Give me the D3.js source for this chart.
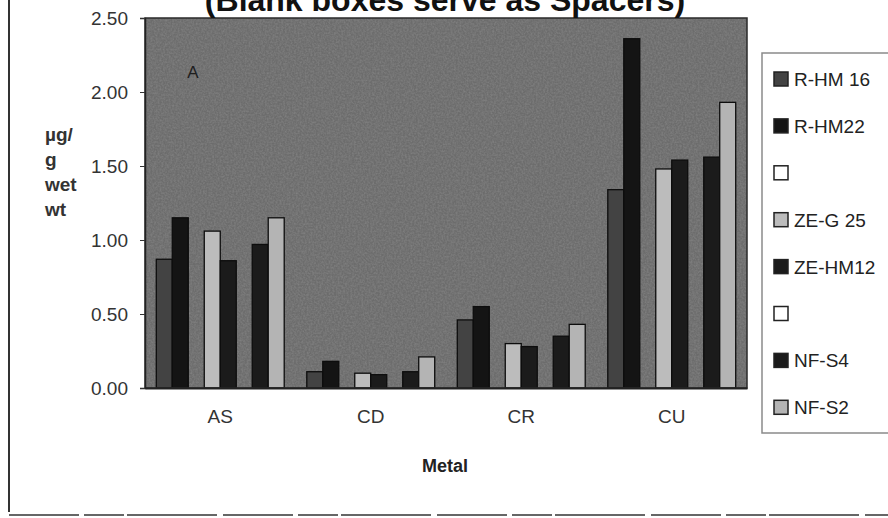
<!DOCTYPE html>
<html>
<head>
<meta charset="utf-8">
<script src="https://cdn.jsdelivr.net/npm/d3@7/dist/d3.min.js"></script>
<style>
  html, body { margin: 0; padding: 0; background: #fff; }
  svg { display: block; font-family: "Liberation Sans", Arial, sans-serif; }
</style>
</head>
<body>
<svg id="chart" width="888" height="518"></svg>
<script>
// Metal concentrations (µg/g wet wt) by sample site
const metals = ["AS", "CD", "CR", "CU"];
const seriesKeys = ["rhm16", "rhm22", "blank1", "zeg25", "zehm12", "blank2", "nfs4", "nfs2"];
const seriesLabels = ["R-HM 16", "R-HM22", "", "ZE-G 25", "ZE-HM12", "", "NF-S4", "NF-S2"];
const rhm16  = [0.87, 0.11, 0.46, 1.34];
const rhm22  = [1.15, 0.18, 0.55, 2.36];
const blank1 = [0, 0, 0, 0];
const zeg25  = [1.06, 0.10, 0.30, 1.48];
const zehm12 = [0.86, 0.09, 0.28, 1.54];
const blank2 = [0, 0, 0, 0];
const nfs4   = [0.97, 0.11, 0.35, 1.56];
const nfs2   = [1.15, 0.21, 0.43, 1.93];
const yTicks = [0, 0.5, 1.0, 1.5, 2.0, 2.5];

const seriesValues = { rhm16, rhm22, blank1, zeg25, zehm12, blank2, nfs4, nfs2 };
const fills = {
  rhm16: "#434343", rhm22: "#141414", blank1: "#ffffff", zeg25: "#bcbcbc",
  zehm12: "#1b1b1b", blank2: "#ffffff", nfs4: "#1b1b1b", nfs2: "#b4b4b4"
};

const svg = d3.select("#chart");
const plot = { left: 145, right: 747, top: 18, bottom: 388 };

// speckle texture for the plot floor
const defs = svg.append("defs");
const f = defs.append("filter").attr("id", "grain").attr("x", 0).attr("y", 0).attr("width", 1).attr("height", 1);
f.append("feTurbulence").attr("type", "fractalNoise").attr("baseFrequency", 0.55).attr("numOctaves", 2).attr("seed", 3).attr("result", "n");
f.append("feColorMatrix").attr("in", "n").attr("type", "matrix")
  .attr("values", "0 0 0 0 0.5  0 0 0 0 0.5  0 0 0 0 0.5  1.2 0 0 0 -0.35");

const x0 = d3.scaleBand().domain(metals).range([plot.left, plot.right]).paddingInner(0.15).paddingOuter(0.075);
const x1 = d3.scaleBand().domain(seriesKeys).range([0, x0.bandwidth()]);
const y = d3.scaleLinear().domain([0, 2.5]).range([plot.bottom, plot.top]);

// plot area
svg.append("rect")
  .attr("x", plot.left).attr("y", plot.top)
  .attr("width", plot.right - plot.left).attr("height", plot.bottom - plot.top)
  .attr("fill", "#6c6c6c");
svg.append("rect")
  .attr("x", plot.left).attr("y", plot.top)
  .attr("width", plot.right - plot.left).attr("height", plot.bottom - plot.top)
  .attr("fill", "#fff").attr("filter", "url(#grain)").attr("opacity", 0.35);

// bars
const groups = svg.append("g").selectAll("g")
  .data(metals)
  .join("g")
  .attr("transform", d => `translate(${x0(d)},0)`);

groups.selectAll("rect")
  .data((m, i) => seriesKeys.filter(k => seriesValues[k][i] > 0).map(k => ({ key: k, value: seriesValues[k][i] })))
  .join("rect")
  .attr("x", d => x1(d.key))
  .attr("y", d => y(d.value))
  .attr("width", x1.bandwidth())
  .attr("height", d => y(0) - y(d.value))
  .attr("fill", d => fills[d.key])
  .attr("stroke", "#0d0d0d")
  .attr("stroke-width", 1.3);

// frame
svg.append("rect")
  .attr("x", plot.left).attr("y", plot.top)
  .attr("width", plot.right - plot.left).attr("height", plot.bottom - plot.top)
  .attr("fill", "none").attr("stroke", "#2a2a2a").attr("stroke-width", 1.5);

// y axis
const yAxis = d3.axisLeft(y).tickValues(yTicks).tickFormat(d3.format(".2f")).tickSize(5).tickPadding(12);
const ya = svg.append("g").attr("transform", `translate(${plot.left},0)`).call(yAxis);
ya.select(".domain").attr("stroke", "#222").attr("stroke-width", 1.5);
ya.selectAll(".tick line").attr("stroke", "#333");
ya.selectAll(".tick text").attr("font-size", 19).attr("fill", "#333").attr("font-family", "Liberation Sans, Arial, sans-serif");

// x axis
const xAxis = d3.axisBottom(x0).tickSize(0).tickPadding(22);
const xa = svg.append("g").attr("transform", `translate(0,${plot.bottom})`).call(xAxis);
xa.select(".domain").attr("stroke", "#222").attr("stroke-width", 2);
xa.selectAll(".tick text").attr("font-size", 19).attr("fill", "#333").attr("font-family", "Liberation Sans, Arial, sans-serif");

// titles
svg.append("text")
  .attr("x", 445).attr("y", 11)
  .attr("text-anchor", "middle")
  .attr("font-size", 32).attr("font-weight", "bold").attr("fill", "#111")
  .text("(Blank boxes serve as Spacers)");

svg.append("text")
  .attr("x", 445).attr("y", 472)
  .attr("text-anchor", "middle")
  .attr("font-size", 18).attr("font-weight", "bold").attr("fill", "#222")
  .text("Metal");

const yLabel = ["µg/", "g", "wet", "wt"];
svg.append("text")
  .attr("font-size", 19).attr("font-weight", "bold").attr("fill", "#333")
  .selectAll("tspan")
  .data(yLabel)
  .join("tspan")
  .attr("x", 45)
  .attr("y", (d, i) => 141 + i * 25)
  .text(d => d);

svg.append("text")
  .attr("x", 193).attr("y", 78)
  .attr("text-anchor", "middle")
  .attr("font-size", 17).attr("fill", "#1e1e1e")
  .text("A");

// legend
const legend = svg.append("g");
legend.append("rect")
  .attr("x", 762).attr("y", 53).attr("width", 140).attr("height", 380)
  .attr("fill", "#fff").attr("stroke", "#8a8a8a").attr("stroke-width", 1.5);
const items = legend.selectAll("g.item")
  .data(seriesKeys)
  .join("g")
  .attr("class", "item")
  .attr("transform", (d, i) => `translate(774,${79 + i * 46.9})`);
items.append("rect")
  .attr("x", 0).attr("y", -7).attr("width", 14).attr("height", 14)
  .attr("fill", d => fills[d]).attr("stroke", "#222").attr("stroke-width", 1.5);
items.append("text")
  .attr("x", 20).attr("y", 7)
  .attr("font-size", 19).attr("fill", "#222")
  .text((d, i) => seriesLabels[i]);

// page border
svg.append("line").attr("x1", 9).attr("x2", 9).attr("y1", 0).attr("y2", 512)
  .attr("stroke", "#333").attr("stroke-width", 2);
svg.append("line").attr("x1", 9).attr("x2", 888).attr("y1", 515).attr("y2", 515)
  .attr("stroke", "#666").attr("stroke-width", 2).attr("stroke-dasharray", "70,5,40,3,90,6");
</script>
</body>
</html>
